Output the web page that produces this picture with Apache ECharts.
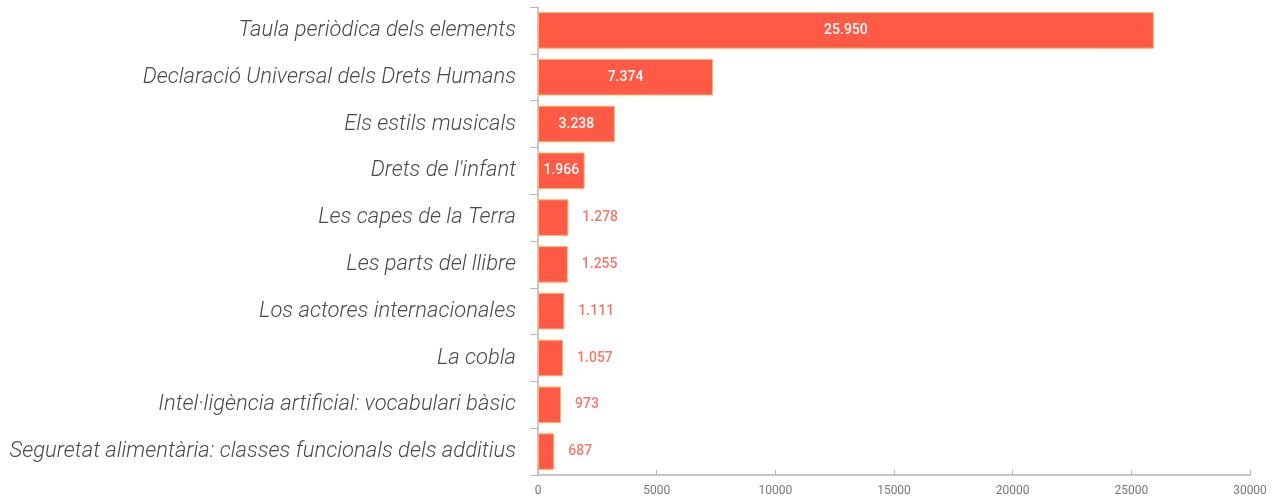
<!DOCTYPE html>
<html>
<head>
<meta charset="utf-8">
<script src="https://cdn.jsdelivr.net/npm/echarts@6/dist/echarts.min.js"></script>
<style>
  html, body { margin: 0; padding: 0; background: #fff; }
  #chart { width: 1281px; height: 504px; }
</style>
</head>
<body>
<div id="chart"></div>
<script>
  // categories (top to bottom)
  const categories = [
    'Taula periòdica dels elements',
    'Declaració Universal dels Drets Humans',
    'Els estils musicals',
    "Drets de l'infant",
    'Les capes de la Terra',
    'Les parts del llibre',
    'Los actores internacionales',
    'La cobla',
    'Intel·ligència artificial: vocabulari bàsic',
    'Seguretat alimentària: classes funcionals dels additius'
  ];
  const values = [25950, 7374, 3238, 1966, 1278, 1255, 1111, 1057, 973, 687];
  const xTicks = [0, 5000, 10000, 15000, 20000, 25000, 30000];

  // separador de milers amb punt
  const fmt = v => String(v).replace(/\B(?=(\d{3})+(?!\d))/g, '.');

  const insideLimit = 1500;

  const chart = echarts.init(document.getElementById('chart'));
  const option = {
    animation: false,
    grid: { left: 538, right: 31, top: 7, bottom: 29, containLabel: false },
    xAxis: {
      type: 'value',
      min: xTicks[0],
      max: xTicks[xTicks.length - 1],
      interval: 5000,
      splitLine: { show: false },
      axisLine: { show: true, lineStyle: { color: '#b5b5b5', width: 1.5 } },
      axisTick: { show: true, length: 5, inside: true, lineStyle: { color: '#b5b5b5' } },
      axisLabel: {
        color: '#777', fontFamily: 'Roboto', fontSize: 12, margin: 10,
        formatter: v => String(v)
      }
    },
    yAxis: {
      type: 'category',
      inverse: true,
      data: categories,
      axisLine: { show: true, lineStyle: { color: '#b5b5b5', width: 1.5 } },
      axisTick: { show: true, length: 8, lineStyle: { color: '#b5b5b5' } },
      axisLabel: {
        color: '#4a4a4a',
        fontFamily: 'Roboto',
        fontStyle: 'italic',
        fontWeight: 300,
        fontSize: 22,
        margin: 22
      }
    },
    series: [{
      type: 'bar',
      data: values.map(v => ({
        value: v,
        label: v >= insideLimit
          ? { position: 'inside', color: '#fff' }
          : { position: 'right', distance: 14, color: '#f4776a' }
      })),
      barCategoryGap: '22%',
      itemStyle: { color: '#ff5a46', borderColor: '#f5b26b', borderWidth: 1 },
      label: {
        show: true,
        fontFamily: 'Roboto',
        fontWeight: 500,
        fontSize: 14,
        formatter: p => fmt(p.value)
      }
    }]
  };
  chart.setOption(option);
</script>
</body>
</html>
